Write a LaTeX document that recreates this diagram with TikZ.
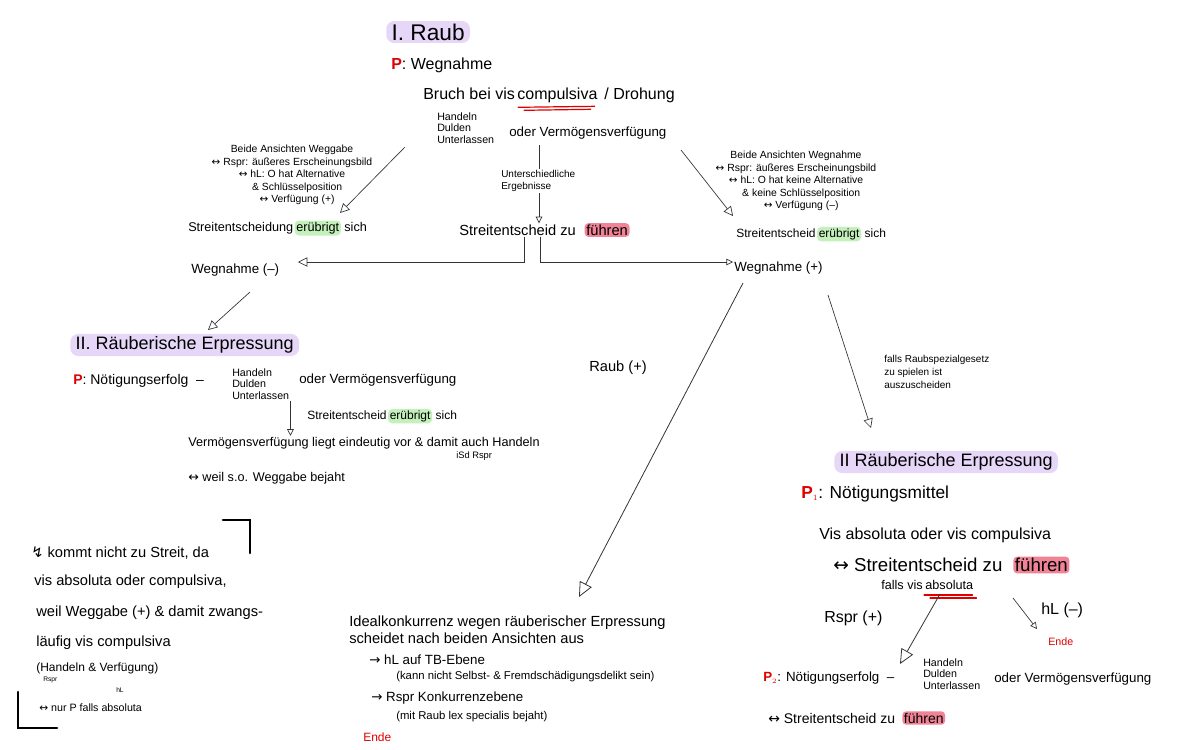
\documentclass[tikz,border=0pt]{standalone}
\usepackage{fontspec}
\setmainfont{Liberation Sans}
\newfontfamily\symfont{DejaVu Sans}
\usepackage{tikz}
\usetikzlibrary{arrows.meta,positioning,calc}
\definecolor{lav}{HTML}{E6D6F7}
\definecolor{hlgreen}{HTML}{C4F0BC}
\definecolor{hlpink}{HTML}{F08496}
\definecolor{pred}{HTML}{E00000}
\newcommand\lrarr{{\symfont ↔}}
\newcommand\rarr{{\symfont →}}

\begin{document}
\begin{tikzpicture}[x=0.75pt,y=0.75pt,yscale=-1,xscale=1,
  txt/.style={inner sep=0.75pt, anchor=west},
  fs/.style 2 args={font=\fontsize{#1}{#2}\selectfont},
  titlebox/.style={txt, fill=lav, rounded corners=6pt, inner xsep=4pt, inner ysep=2pt},
  after/.style={inner sep=0.75pt, anchor=base west},
  hlg/.style={after, inner sep=1.2pt, fill=hlgreen, rounded corners=3pt},
  hlp/.style={after, inner sep=1.2pt, fill=hlpink, rounded corners=3pt},
  ln/.style={draw=black!80, line width=0.5pt},
  arr/.style={ln, -{Triangle[open,length=5pt,width=5pt]}},
  midarr/.style={ln, -{Triangle[open,length=7pt,width=7pt]}},
  bigarr/.style={ln, line width=0.6pt, -{Triangle[open,length=11pt,width=10pt]}},
  redline/.style={draw=pred, line width=0.9pt, line cap=round},
  bracket/.style={line width=2pt, line cap=round}
]
\useasboundingbox (0,0) rectangle (1200,750);

% I. Raub
\node[titlebox, fs={17}{20}] (raub) at (386,32) {I. Raub};
\node[txt, fs={12}{14}] (pweg) at (390,65) {{\color{pred}\textbf{P}}: Wegnahme};
\node[txt, fs={12}{14}] (bruch) at (422,94) {Bruch bei vis\ };
\node[after, fs={12}{14}] (comp) at (bruch.base east) {compulsiva};
\node[after, fs={12}{14}] (droh) at (comp.base east) {\ / Drohung};
\draw[redline] ($(comp.south west)+(2,3)$) -- ($(comp.south east)+(-4,2)$);
\draw[redline] ($(comp.south west)+(8,6)$) -- ($(comp.south east)+(-8,5)$);
\node[txt, fs={8}{8.5}, align=left] (hdu1) at (436,128) {Handeln\\Dulden\\Unterlassen};
\node[txt, fs={10}{12}] (oder1) at (508,133) {oder Vermögensverfügung};

% left: Weggabe
\coordinate (lA) at (405,147);
\coordinate (lB) at (340,213);
\draw[midarr] (lA) -- (lB);
\node[fs={7.8}{9.3}, align=center, inner sep=0.75pt] (ansL) at (292,175) {Beide Ansichten Weggabe\\\lrarr\ Rspr: äußeres Erscheinungsbild\\\lrarr\ hL: O hat Alternative\\\quad\& Schlüsselposition\\\quad\lrarr\ Verfügung (+)};
\node[txt, fs={9.5}{11}] (stL) at (187,228) {Streitentscheidung\ };
\node[hlg, fs={9.5}{11}] (erL) at (stL.base east) {erübrigt};
\node[after, fs={9.5}{11}] (sichL) at (erL.base east) {\kern1.5pt sich};

% middle
\coordinate (mA) at (539,145);
\node[txt, fs={7.5}{9}, align=left] (unter) at (500,181) {Unterschiedliche\\Ergebnisse};
\draw[ln] (mA) -- (unter.north -| mA);
\node[txt, fs={11}{13}] (stM) at (458,230) {Streitentscheid zu\kern0.5em};
\node[hlp, fs={11}{13}] (fuM) at (stM.base east) {führen};
\draw[arr] (unter.south -| mA) -- (stM.north -| mA);

\node[txt, fs={10}{12}] (wegm) at (190,270) {Wegnahme (–)};
\node[txt, fs={10}{12}] (wegp) at (733,268) {Wegnahme (+)};
\coordinate (mL) at (524,262);
\coordinate (mR) at (540,262);
\coordinate (wL) at (298,262);
\draw[midarr] (stM.south -| mL) -- (mL) -- (wL);
\draw[arr] (stM.south -| mR) -- (mR) -- (wegp.west |- mR);

% right: Wegnahme
\coordinate (rA) at (681,150);
\coordinate (rB) at (733,216);
\draw[midarr] (rA) -- (rB);
\node[fs={7.8}{9.3}, align=center, inner sep=0.75pt] (ansR) at (796,181) {Beide Ansichten Wegnahme\\\lrarr\ Rspr: äußeres Erscheinungsbild\\\lrarr\ hL: O hat keine Alternative\\\quad\& keine Schlüsselposition\\\quad\lrarr\ Verfügung (–)};
\node[txt, fs={9}{11}] (stR) at (735,233) {Streitentscheid\ };
\node[hlg, fs={9}{11}] (erR) at (stR.base east) {erübrigt};
\node[after, fs={9}{11}] (sichR) at (erR.base east) {\kern1.5pt sich};

% II. Raeuberische Erpressung (links)
\coordinate (llA) at (250,292);
\coordinate (llB) at (208,330);
\draw[midarr] (llA) -- (llB);
\node[titlebox, fs={13.5}{16}] (raeL) at (70,345) {II. Räuberische Erpressung};
\node[txt, fs={10.5}{12}] (p2L) at (72,381) {{\color{pred}\textbf{P}}: Nötigungserfolg \ –};
\node[txt, fs={8}{8.5}, align=left] (hdu2) at (231,384) {Handeln\\Dulden\\Unterlassen};
\node[txt, fs={10}{12}] (oder2) at (298,380) {oder Vermögensverfügung};
\node[txt, fs={9}{11}] (st2) at (306,415) {Streitentscheid\ };
\node[hlg, fs={9}{11}] (er2) at (st2.base east) {erübrigt};
\node[after, fs={9}{11}] (sich2) at (er2.base east) {\kern1.5pt sich};
\node[txt, fs={9.5}{11}] (verf) at (187,443) {Vermögensverfügung liegt eindeutig vor \& damit auch Handeln};
\node[txt, fs={7}{8}] (isd) at (455,456) {iSd Rspr};
\node[txt, fs={9.5}{11}] (weil) at (187,478) {\lrarr\ weil s.o. Weggabe bejaht};
\draw[arr] (hdu2.south east) -- (hdu2.south east |- verf.north);

% Raub (+)
\node[txt, fs={11}{13}] (raubp) at (588,368) {Raub (+)};
\coordinate (wpA) at (743,283);
\coordinate (idA) at (579,597);
\draw[bigarr] (wpA) -- (idA);
\coordinate (wpB) at (828,295);
\coordinate (raeRA) at (871,428);
\draw[midarr] (wpB) -- (raeRA);
\node[txt, fs={7.5}{9.5}, align=left] (falls) at (883,372) {falls Raubspezialgesetz\\zu spielen ist\\auszuscheiden};

% II Raeuberische Erpressung (rechts)
\node[titlebox, fs={13.5}{16}] (raeR) at (834,462) {II Räuberische Erpressung};
\node[txt, fs={13}{15}] (p1R) at (800,494) {{\color{pred}\textbf{P}$_{\scriptscriptstyle 1}$}: Nötigungsmittel};
\node[txt, fs={12}{14}] (vis) at (818,535) {Vis absoluta oder vis compulsiva};
\node[txt, fs={14}{16}] (st3) at (832,565) {\lrarr\ Streitentscheid zu\kern0.5em};
\node[hlp, fs={14}{16}] (fu3) at (st3.base east) {führen};
\node[txt, fs={9.5}{11}] (fv1) at (880,585) {falls vis\ };
\node[after, fs={9.5}{11}] (absR) at (fv1.base east) {absoluta};
\draw[redline] ($(absR.south west)+(0,4)$) -- ($(absR.south east)+(-2,4)$);
\draw[redline] ($(absR.south west)+(6,7)$) -- ($(absR.south east)+(2,7)$);
\coordinate (fvA) at (940,594);
\coordinate (p2tip) at (900,664);
\draw[bigarr] (fvA) -- (p2tip);
\coordinate (fvB) at (1013,598);
\coordinate (hltip) at (1037,629);
\draw[arr] (fvB) -- (hltip);
\node[txt, fs={12}{14}] (rspr) at (823,618) {Rspr (+)};
\node[txt, fs={12}{14}] (hlm) at (1040,610) {hL (–)};
\node[txt, fs={8}{10}, text=pred] (ende1) at (1047,642) {Ende};
\node[txt, fs={10}{12}] (p2R) at (762,678) {{\color{pred}\textbf{P}$_{\scriptscriptstyle 2}$}: Nötigungserfolg \ –};
\node[txt, fs={8}{8.5}, align=left] (hdu3) at (922,674) {Handeln\\Dulden\\Unterlassen};
\node[txt, fs={10}{12}] (oder3) at (993,679) {oder Vermögensverfügung};
\node[txt, fs={10.5}{12}] (st4) at (767,718) {\lrarr\ Streitentscheid zu\kern0.4em};
\node[hlp, fs={10.5}{12}] (fu4) at (st4.base east) {führen};

% Idealkonkurrenz
\node[txt, fs={11}{12.5}, align=left] (ideal) at (348,630) {Idealkonkurrenz wegen räuberischer Erpressung\\scheidet nach beiden Ansichten aus};
\node[txt, fs={10}{12}] (hlTB) at (368,660) {\rarr\ hL auf TB-Ebene};
\node[txt, fs={8.5}{10}] (kann) at (395,677) {(kann nicht Selbst- \& Fremdschädigungsdelikt sein)};
\node[txt, fs={10}{12}] (rsprK) at (370,698) {\rarr\ Rspr Konkurrenzebene};
\node[txt, fs={8.5}{10}] (mit) at (395,717) {(mit Raub lex specialis bejaht)};
\node[txt, fs={9}{11}, text=pred] (ende2) at (362,737) {Ende};

% Kasten links
\draw[bracket] (223,520) -- (250,520) -- (250,553);
\draw[bracket] (18,692) -- (18,728) -- (57,728);
\node[txt, fs={11}{13}] (k1) at (30,553) {{\symfont ↯} kommt nicht zu Streit, da};
\node[txt, fs={11}{13}] (k2) at (33,582) {vis absoluta oder compulsiva,};
\node[txt, fs={11}{13}] (k3) at (35,613) {weil Weggabe (+) \& damit zwangs-};
\node[txt, fs={11}{13}] (k4) at (35,643) {läufig vis compulsiva};
\node[txt, fs={9}{11}] (k5) at (35,668) {(Handeln \& Verfügung)};
\node[txt, fs={5}{6}] (k5a) at (42,680) {Rspr};
\node[txt, fs={5}{6}] (k5b) at (115,690) {hL};
\node[txt, fs={8}{10}] (k6) at (38,708) {\lrarr\ nur P falls absoluta};
\end{tikzpicture}
\end{document}
